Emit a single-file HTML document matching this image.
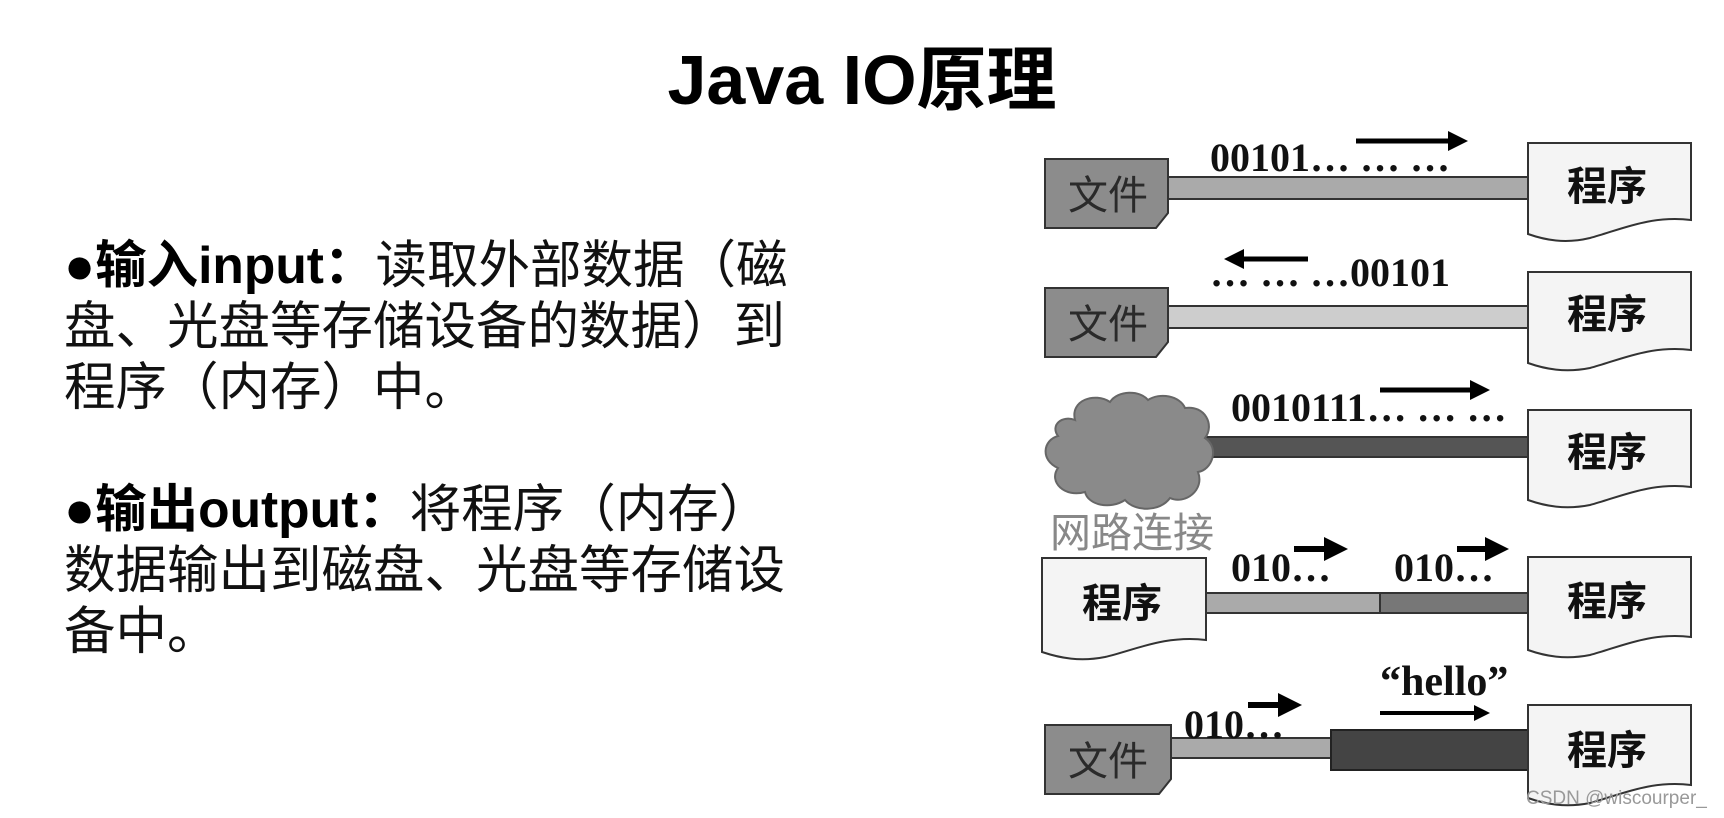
<!DOCTYPE html>
<html><head><meta charset="utf-8"><style>
body{margin:0;width:1724px;height:818px;background:#fff;overflow:hidden;position:relative;font-family:"Liberation Sans","Noto Sans CJK SC",sans-serif}
.t{position:absolute;left:0;width:1724px;top:38px;text-align:center;font-weight:bold;font-size:70px;line-height:84px}
.p{position:absolute;left:64px;font-size:51.5px;line-height:61px;color:#111;white-space:nowrap}
.p b{color:#000}
svg{position:absolute;left:0;top:0}
</style></head><body>
<div class="t">Java IO原理</div>
<div class="p" style="top:235px"><b>●输入input：</b>读取外部数据（磁<br>盘、光盘等存储设备的数据）到<br>程序（内存）中。</div>
<div class="p" style="top:479px"><b>●输出output：</b>将程序（内存）<br>数据输出到磁盘、光盘等存储设<br>备中。</div>
<svg width="1724" height="818" viewBox="0 0 1724 818">
<defs>
<marker id="a" markerWidth="4" markerHeight="4" refX="2" refY="2" orient="auto" markerUnits="strokeWidth"><path d="M0,0 L4,2 L0,4z" fill="#000"/></marker>
</defs>
<g font-family="Liberation Serif,serif" font-weight="bold" fill="#111">
<!-- row1 -->
<rect x="1168" y="177" width="360" height="22" fill="#aaa" stroke="#333" stroke-width="2"/>
<path d="M1045 159 H1168 V213 L1156 228 H1045Z" fill="#8c8c8c" stroke="#333" stroke-width="2"/>
<text x="1068" y="209" font-family="Noto Sans CJK SC,sans-serif" font-weight="normal" font-size="40" fill="#2a2a2a">文件</text>
<path d="M1528 143 H1691 V220 C1650 215 1620 230 1590 238 C1565 244 1545 240 1528 234Z" fill="#f4f4f4" stroke="#333" stroke-width="2"/>
<text x="1567" y="200" font-family="Noto Sans CJK SC,sans-serif" font-size="40" fill="#111">程序</text>
<text x="1210" y="171" font-size="40">00101… … …</text>
<line x1="1356" y1="141" x2="1458" y2="141" stroke="#000" stroke-width="5" marker-end="url(#a)"/>
<!-- row2 -->
<rect x="1168" y="306" width="360" height="22" fill="#cdcdcd" stroke="#333" stroke-width="2"/>
<path d="M1045 288 H1168 V342 L1156 357 H1045Z" fill="#8c8c8c" stroke="#333" stroke-width="2"/>
<text x="1068" y="338" font-family="Noto Sans CJK SC,sans-serif" font-weight="normal" font-size="40" fill="#2a2a2a">文件</text>
<path d="M1528 272 H1691 V350 C1650 345 1620 360 1590 368 C1565 373 1545 369 1528 363Z" fill="#f4f4f4" stroke="#333" stroke-width="2"/>
<text x="1567" y="328" font-family="Noto Sans CJK SC,sans-serif" font-size="40" fill="#111">程序</text>
<text x="1210" y="286" font-size="40">… … …00101</text>
<line x1="1308" y1="259" x2="1234" y2="259" stroke="#000" stroke-width="5" marker-end="url(#a)"/>
<!-- row3 -->
<rect x="1205" y="437" width="323" height="20" fill="#555" stroke="#333" stroke-width="2"/>
<path d="M1075 420 C1070 400 1095 392 1110 402 C1118 390 1140 390 1148 400 C1160 392 1180 396 1185 408 C1205 405 1215 425 1205 438 C1220 448 1212 470 1198 472 C1205 490 1185 505 1170 498 C1160 512 1135 512 1125 500 C1110 510 1088 505 1085 492 C1065 498 1048 482 1058 468 C1040 460 1043 440 1058 436 C1050 425 1062 415 1075 420Z" fill="#8a8a8a" stroke="#666" stroke-width="2"/>
<text x="1050" y="547" font-family="Noto Sans CJK SC,sans-serif" font-weight="normal" font-size="41" fill="#888">网路连接</text>
<path d="M1528 410 H1691 V487 C1650 482 1620 497 1590 505 C1565 510 1545 506 1528 500Z" fill="#f4f4f4" stroke="#333" stroke-width="2"/>
<text x="1567" y="466" font-family="Noto Sans CJK SC,sans-serif" font-size="40" fill="#111">程序</text>
<text x="1231" y="421" font-size="40">0010111… … …</text>
<line x1="1380" y1="390" x2="1480" y2="390" stroke="#000" stroke-width="5" marker-end="url(#a)"/>
<!-- row4 -->
<rect x="1206" y="593" width="174" height="20" fill="#aaa" stroke="#333" stroke-width="2"/>
<rect x="1380" y="593" width="148" height="20" fill="#777" stroke="#333" stroke-width="2"/>
<path d="M1042 558 H1206 V640 C1165 635 1135 650 1105 657 C1080 662 1060 658 1042 652Z" fill="#f4f4f4" stroke="#333" stroke-width="2"/>
<text x="1082" y="617" font-family="Noto Sans CJK SC,sans-serif" font-size="40" fill="#111">程序</text>
<path d="M1528 557 H1691 V637 C1650 632 1620 647 1590 655 C1565 660 1545 656 1528 650Z" fill="#f4f4f4" stroke="#333" stroke-width="2"/>
<text x="1567" y="615" font-family="Noto Sans CJK SC,sans-serif" font-size="40" fill="#111">程序</text>
<text x="1231" y="581" font-size="40">010…</text>
<text x="1394" y="581" font-size="40">010…</text>
<line x1="1294" y1="549" x2="1336" y2="549" stroke="#000" stroke-width="6" marker-end="url(#a)"/>
<line x1="1457" y1="549" x2="1497" y2="549" stroke="#000" stroke-width="6" marker-end="url(#a)"/>
<!-- row5 -->
<rect x="1171" y="738" width="160" height="20" fill="#aaa" stroke="#333" stroke-width="2"/>
<rect x="1331" y="730" width="197" height="40" fill="#444" stroke="#222" stroke-width="2"/>
<path d="M1045 725 H1171 V779 L1159 794 H1045Z" fill="#8c8c8c" stroke="#333" stroke-width="2"/>
<text x="1068" y="775" font-family="Noto Sans CJK SC,sans-serif" font-weight="normal" font-size="40" fill="#2a2a2a">文件</text>
<path d="M1528 705 H1691 V785 C1650 780 1620 795 1590 803 C1565 808 1545 804 1528 798Z" fill="#f4f4f4" stroke="#333" stroke-width="2"/>
<text x="1567" y="764" font-family="Noto Sans CJK SC,sans-serif" font-size="40" fill="#111">程序</text>
<text x="1184" y="738" font-size="40">010…</text>
<line x1="1248" y1="705" x2="1290" y2="705" stroke="#000" stroke-width="6" marker-end="url(#a)"/>
<text x="1380" y="695" font-size="42">“hello”</text>
<line x1="1380" y1="713" x2="1482" y2="713" stroke="#000" stroke-width="4" marker-end="url(#a)"/>
</g>
<text x="1526" y="804" font-family="Liberation Sans,sans-serif" font-size="19" fill="#999">CSDN @wiscourper_</text>
</svg>
</body></html>
